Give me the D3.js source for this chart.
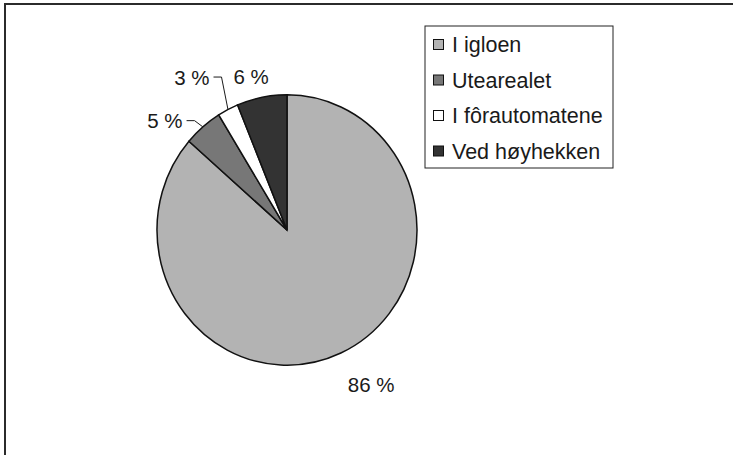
<!DOCTYPE html>
<html>
<head>
<meta charset="utf-8">
<script src="https://cdn.jsdelivr.net/npm/d3@7"></script>
<style>
  body { margin: 0; background: #fff; }
  text { font-family: "Liberation Sans", Arial, sans-serif; fill: #1a1a1a; }
</style>
</head>
<body>
<div id="chart"></div>
<script>
// data
var categories = ["I igloen", "Utearealet", "I fôrautomatene", "Ved høyhekken"];
var values = [86.4, 4.8, 2.6, 6.2];
var colors = ["#b3b3b3", "#777777", "#ffffff", "#333333"];

// label placement (radius from centre, angle nudge in degrees, leader line or not)
var labelLayout = [
  {R: 171, da: -5, leader: false},
  {R: 140, da: -1, leader: true},
  {R: 161, da: 3, leader: true},
  {R: 152, da: -2.5, leader: false}
];

var width = 733, height = 455;
var cx = 287, cy = 230, r = 130, sy = 1.04;

var svg = d3.select("#chart").append("svg")
  .attr("width", width).attr("height", height);

// outer frame, runs off the right and bottom edges
svg.append("rect")
  .attr("x", 5).attr("y", 4)
  .attr("width", width + 20).attr("height", height + 20)
  .attr("fill", "none").attr("stroke", "#2b2b2b").attr("stroke-width", 2);

var pie = d3.pie().sort(null).value(function(d){ return d; });
var arcs = pie(values);
var arc = d3.arc().innerRadius(0).outerRadius(r);

var g = svg.append("g")
  .attr("transform", "translate(" + cx + "," + cy + ") scale(1," + sy + ")");

g.selectAll("path.slice")
  .data(arcs).enter()
  .append("path")
  .attr("class", "slice")
  .attr("d", arc)
  .attr("fill", function(d, i){ return colors[i]; })
  .attr("stroke", "#111")
  .attr("stroke-width", 1.5)
  .attr("vector-effect", "non-scaling-stroke");

function polar(angle, rad){
  return [cx + Math.sin(angle) * rad, cy - Math.cos(angle) * rad * sy];
}

var deg = Math.PI / 180;
arcs.forEach(function(d, i){
  var lay = labelLayout[i];
  var mid = (d.startAngle + d.endAngle) / 2;
  var p = polar(mid + lay.da * deg, lay.R);
  var txt = Math.round(values[i]) + " %";
  if (lay.leader) {
    var e = polar(mid, r);
    svg.append("path")
      .attr("d", "M" + e[0] + "," + e[1] + "L" + p[0] + "," + p[1] + "L" + (p[0] - 8) + "," + p[1])
      .attr("fill", "none").attr("stroke", "#1a1a1a").attr("stroke-width", 1);
    svg.append("text")
      .attr("x", p[0] - 12).attr("y", p[1])
      .attr("text-anchor", "end")
      .attr("dominant-baseline", "central")
      .style("font-size", "20.5px")
      .text(txt);
  } else {
    svg.append("text")
      .attr("x", p[0]).attr("y", p[1])
      .attr("text-anchor", "middle")
      .attr("dominant-baseline", "central")
      .style("font-size", "20.5px")
      .text(txt);
  }
});

// legend
var lx = 425, ly = 26, lw = 188, lh = 142, step = 35.5;
var legend = svg.append("g");
legend.append("rect")
  .attr("x", lx).attr("y", ly).attr("width", lw).attr("height", lh)
  .attr("fill", "#fff").attr("stroke", "#222").attr("stroke-width", 1);

var items = legend.selectAll("g.item")
  .data(categories).enter()
  .append("g")
  .attr("class", "item")
  .attr("transform", function(d, i){ return "translate(" + (lx + 8) + "," + (ly + 19 + i * step) + ")"; });

items.append("rect")
  .attr("x", 0.5).attr("y", -5.5).attr("width", 10).attr("height", 10)
  .attr("fill", function(d, i){ return colors[i]; })
  .attr("stroke", "#111").attr("stroke-width", 1);

items.append("text")
  .attr("x", 19).attr("y", 0)
  .attr("dominant-baseline", "central")
  .style("font-size", "21.5px")
  .text(function(d){ return d; });
</script>
</body>
</html>
